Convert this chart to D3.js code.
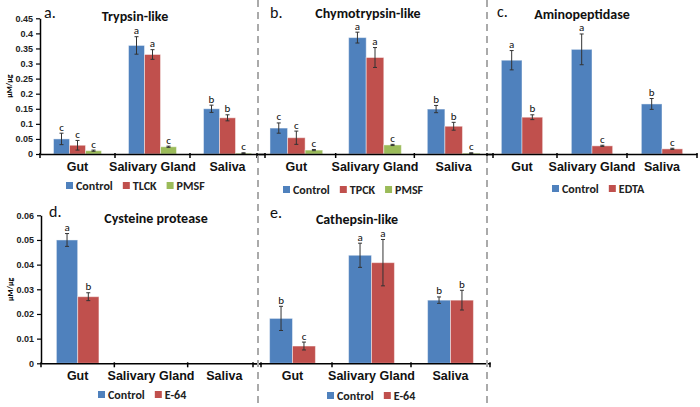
<!DOCTYPE html>
<html>
<head>
<meta charset="utf-8">
<script src="https://cdn.jsdelivr.net/npm/d3@7/dist/d3.min.js"></script>
<style>
  body { margin: 0; background: #fff; }
  svg { font-family: Carlito, Lato, "Open Sans", sans-serif; }
</style>
</head>
<body>
<div id="chart"></div>
<script>
// categories shared by all panels
const categories = ['Gut', 'Salivary Gland', 'Saliva'];

// a. Trypsin-like  (values per category: [Control, TLCK, PMSF])
const trypsinSeries = ['Control', 'TLCK', 'PMSF'];
const trypsinValues = [[0.050, 0.029, 0.011], [0.360, 0.330, 0.024], [0.150, 0.120, 0.003]];
const trypsinErrors = [[0.019, 0.016, 0.002], [0.029, 0.016, 0.002], [0.012, 0.010, 0.001]];
const trypsinLetters = [['c', 'c', 'c'], ['a', 'a', 'c'], ['b', 'b', 'c']];

// b. Chymotrypsin-like
const chymoSeries = ['Control', 'TPCK', 'PMSF'];
const chymoValues = [[0.086, 0.054, 0.013], [0.386, 0.320, 0.030], [0.149, 0.092, 0.003]];
const chymoErrors = [[0.017, 0.022, 0.002], [0.018, 0.033, 0.002], [0.012, 0.013, 0.001]];
const chymoLetters = [['c', 'c', 'c'], ['a', 'a', 'c'], ['b', 'b', 'c']];

// c. Aminopeptidase
const aminoSeries = ['Control', 'EDTA'];
const aminoValues = [[0.311, 0.122], [0.347, 0.027], [0.166, 0.017]];
const aminoErrors = [[0.032, 0.008], [0.051, 0.002], [0.018, 0.002]];
const aminoLetters = [['a', 'b'], ['a', 'c'], ['b', 'c']];

// d. Cysteine protease (only gut measured)
const cysteineSeries = ['Control', 'E-64'];
const cysteineValues = [[0.050, 0.027], [null, null], [null, null]];
const cysteineErrors = [[0.0026, 0.0016], [0, 0], [0, 0]];
const cysteineLetters = [['a', 'b'], ['', ''], ['', '']];

// e. Cathepsin-like
const cathepsinSeries = ['Control', 'E-64'];
const cathepsinValues = [[0.0182, 0.0070], [0.0438, 0.0408], [0.0256, 0.0256]];
const cathepsinErrors = [[0.0049, 0.0016], [0.0049, 0.0094], [0.0013, 0.0040]];
const cathepsinLetters = [['b', 'c'], ['a', 'a'], ['b', 'b']];

// y tick labels
const topTicks = [0, 0.05, 0.1, 0.15, 0.2, 0.25, 0.3, 0.35, 0.4, 0.45];
const bottomTicks = [0, 0.01, 0.02, 0.03, 0.04, 0.05, 0.06];

const colors = { Control: '#4F81BD', TLCK: '#C0504D', TPCK: '#C0504D', EDTA: '#C0504D', 'E-64': '#C0504D', PMSF: '#9BBB59' };

const width = 700, height = 407;
const svg = d3.select('#chart').append('svg').attr('width', width).attr('height', height);

function drawPanel(p) {
  const g = svg.append('g');
  const x = d3.scaleBand().domain(categories).range([p.x0, p.x1]);
  const groupW = x.bandwidth() * p.groupFrac;
  const xs = d3.scaleBand().domain(p.series).range([0, groupW]);
  const y = d3.scaleLinear().domain([0, p.yMax]).range([p.yBase, p.yTop]);
  const off = (x.bandwidth() - groupW) / 2;

  const rows = [];
  categories.forEach((c, i) => {
    p.series.forEach((s, j) => {
      if (p.values[i][j] == null) return;
      rows.push({ cat: c, s, v: p.values[i][j], e: p.errors[i][j], l: p.letters[i][j] });
    });
  });

  // bars
  g.selectAll('rect.bar').data(rows).join('rect')
    .attr('class', 'bar')
    .attr('x', d => x(d.cat) + off + xs(d.s))
    .attr('y', d => y(d.v))
    .attr('width', xs.bandwidth())
    .attr('height', d => y(0) - y(d.v))
    .attr('fill', d => colors[d.s])
    .attr('stroke', 'rgba(255,255,255,0.45)')
    .attr('stroke-width', 1);

  // error bars
  const cx = d => x(d.cat) + off + xs(d.s) + xs.bandwidth() / 2;
  const eg = g.selectAll('g.err').data(rows).join('g').attr('class', 'err')
    .attr('stroke', '#333').attr('stroke-width', 1);
  eg.append('line').attr('x1', cx).attr('x2', cx)
    .attr('y1', d => y(d.v + d.e)).attr('y2', d => y(Math.max(0, d.v - d.e)));
  eg.append('line').attr('x1', d => cx(d) - 2).attr('x2', d => cx(d) + 2)
    .attr('y1', d => y(d.v + d.e)).attr('y2', d => y(d.v + d.e));
  eg.append('line').attr('x1', d => cx(d) - 2).attr('x2', d => cx(d) + 2)
    .attr('y1', d => y(Math.max(0, d.v - d.e))).attr('y2', d => y(Math.max(0, d.v - d.e)));

  // letters
  g.selectAll('text.sig').data(rows).join('text')
    .attr('class', 'sig')
    .attr('x', cx)
    .attr('y', d => y(d.v + d.e) - 2.5)
    .attr('text-anchor', 'middle')
    .attr('font-size', 11)
    .attr('fill', '#111')
    .text(d => d.l);

  // x axis
  const xa = g.append('g').attr('transform', `translate(0,${p.yBase})`)
    .call(d3.axisBottom(x).tickSize(0).tickPadding(p.labelPad));
  xa.select('.domain').attr('stroke', '#000').attr('stroke-width', 1.5);
  xa.selectAll('text').attr('font-size', 12.5).attr('font-weight', 'bold').attr('fill', '#111');
  const bounds = categories.map(c => x(c)).concat([p.x1]);
  xa.selectAll('line.bt').data(bounds).join('line').attr('class', 'bt')
    .attr('x1', d => d).attr('x2', d => d).attr('y1', -1).attr('y2', 4)
    .attr('stroke', '#000').attr('stroke-width', 1.5);

  // y axis
  if (p.yTicks) {
    const ya = g.append('g').attr('transform', `translate(${p.x0},0)`)
      .call(d3.axisLeft(y).tickValues(p.yTicks).tickSize(4).tickSizeOuter(0).tickPadding(3)
        .tickFormat(d => String(d)));
    ya.select('.domain').attr('stroke', '#000').attr('stroke-width', 1.5);
    ya.selectAll('.tick line').attr('stroke', '#000').attr('stroke-width', 1.2);
    ya.selectAll('text').attr('font-size', 9).attr('font-weight', 'bold').attr('fill', '#222');
    g.append('text')
      .attr('transform', `translate(${p.x0 - 28},${(p.yBase + p.yTop) / 2}) rotate(-90)`)
      .attr('text-anchor', 'middle').attr('font-size', 8).attr('font-weight', 'bold')
      .text('μM/μg');
  }

  // panel letter and title
  g.append('text').attr('x', p.labelX).attr('y', p.labelY).attr('font-size', 16).attr('fill', '#111').text(p.label);
  g.append('text').attr('x', p.titleX).attr('y', p.titleY).attr('text-anchor', 'middle')
    .attr('font-size', 14).attr('font-weight', 'bold').attr('fill', '#111').text(p.title);

  // legend
  let lx = p.legendX;
  p.series.forEach(s => {
    g.append('rect').attr('x', lx).attr('y', p.legendY - 4).attr('width', 7).attr('height', 7).attr('fill', colors[s]);
    const t = g.append('text').attr('x', lx + 10).attr('y', p.legendY + 4)
      .attr('font-size', 12).attr('font-weight', 'bold').attr('fill', '#222').text(s);
    lx += 10 + t.node().getComputedTextLength() + 10;
  });
}

drawPanel({ series: trypsinSeries, values: trypsinValues, errors: trypsinErrors, letters: trypsinLetters,
  x0: 40, x1: 265, yBase: 154, yTop: 18.3, yMax: 0.45, yTicks: topTicks, groupFrac: 0.64, labelPad: 8,
  label: 'a.', labelX: 44, labelY: 18, title: 'Trypsin-like', titleX: 135, titleY: 20.5, legendX: 66, legendY: 186 });
drawPanel({ series: chymoSeries, values: chymoValues, errors: chymoErrors, letters: chymoLetters,
  x0: 257, x1: 493, yBase: 154, yTop: 18.3, yMax: 0.45, groupFrac: 0.67, labelPad: 8,
  label: 'b.', labelX: 270, labelY: 18, title: 'Chymotrypsin-like', titleX: 368, titleY: 17.5, legendX: 283, legendY: 190 });
drawPanel({ series: aminoSeries, values: aminoValues, errors: aminoErrors, letters: aminoLetters,
  x0: 487, x1: 697, yBase: 154, yTop: 18.3, yMax: 0.45, groupFrac: 0.59, labelPad: 8,
  label: 'c.', labelX: 497, labelY: 17, title: 'Aminopeptidase', titleX: 582, titleY: 19, legendX: 552, legendY: 189 });
drawPanel({ series: cysteineSeries, values: cysteineValues, errors: cysteineErrors, letters: cysteineLetters,
  x0: 41, x1: 261, yBase: 363.3, yTop: 215.3, yMax: 0.06, yTicks: bottomTicks, groupFrac: 0.58, labelPad: 8,
  label: 'd.', labelX: 49, labelY: 217, title: 'Cysteine protease', titleX: 156, titleY: 223, legendX: 98, legendY: 395 });
drawPanel({ series: cathepsinSeries, values: cathepsinValues, errors: cathepsinErrors, letters: cathepsinLetters,
  x0: 253, x1: 490, yBase: 363.3, yTop: 215.3, yMax: 0.06, groupFrac: 0.58, labelPad: 8,
  label: 'e.', labelX: 270, labelY: 218, title: 'Cathepsin-like', titleX: 357, titleY: 224, legendX: 327, legendY: 396 });

// dashed separators
svg.selectAll('line.sep').data([258, 487]).join('line').attr('class', 'sep')
  .attr('x1', d => d).attr('x2', d => d).attr('y1', 0).attr('y2', height)
  .attr('stroke', '#aaa').attr('stroke-width', 2).attr('stroke-dasharray', '7,5');
</script>
</body>
</html>
